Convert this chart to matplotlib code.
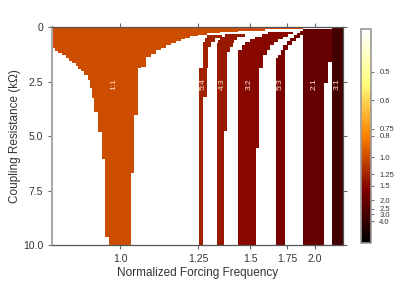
import numpy as np
import matplotlib
matplotlib.use("Agg")
import matplotlib.pyplot as plt
from matplotlib.colors import Normalize
from matplotlib.cm import ScalarMappable

plt.rcParams['font.family'] = ['Liberation Sans', 'DejaVu Sans']

# locking ratios (response : forcing) and their labels
ratios = [1.0, 1.25, 4 / 3, 1.5, 5 / 3, 2.0, 3.0]
names = ["1:1", "5:4", "4:3", "3:2", "5:3", "2:1", "3:1"]

# each tongue: resistance breakpoints (kOhm) + left/right frequency edge per step
t11_r_lo = [0, 0.94, 1.07, 1.19, 1.28, 1.40, 1.53, 1.65, 1.77, 1.89, 2.01, 2.20,
            2.43, 2.78, 3.26, 3.87, 4.79, 6.06, 9.62, 10]
t11_lo = [0.85, 0.857, 0.863, 0.871, 0.878, 0.884, 0.890, 0.898, 0.903, 0.909,
          0.916, 0.924, 0.928, 0.932, 0.938, 0.947, 0.955, 0.964, 0.973]
t11_r_hi = [0, 0.09, 0.175, 0.22, 0.27, 0.345, 0.405, 0.48, 0.54, 0.62, 0.71,
            0.82, 0.94, 1.05, 1.20, 1.34, 1.80, 1.88, 4.02, 6.70, 10]
t11_hi = [1.887, 1.59, 1.434, 1.345, 1.286, 1.25, 1.219, 1.20, 1.185, 1.168,
          1.150, 1.134, 1.118, 1.102, 1.086, 1.071, 1.057, 1.049, 1.038, 1.029]

t54_r = [0.345, 0.50, 0.65, 0.88, 1.88, 3.19, 10]
t54_lo = [1.287, 1.278, 1.272, 1.269, 1.255, 1.255]
t54_hi = [1.354, 1.322, 1.304, 1.293, 1.286, 1.269]

t43_r = [0.30, 0.42, 0.575, 0.73, 0.88, 1.13, 4.76, 10]
t43_lo = [1.368, 1.345, 1.336, 1.331, 1.330, 1.330, 1.330]
t43_hi = [1.472, 1.429, 1.411, 1.408, 1.393, 1.378, 1.364]

t32_r = [0.22, 0.31, 0.42, 0.53, 0.65, 0.80, 1.03, 1.26, 1.86, 5.54, 10]
t32_lo = [1.612, 1.573, 1.529, 1.5, 1.472, 1.454, 1.435, 1.435, 1.435, 1.435]
t32_hi = [1.797, 1.757, 1.718, 1.681, 1.653, 1.625, 1.603, 1.581, 1.556, 1.535]

t53_r = [0.16, 0.25, 0.345, 0.47, 0.62, 0.80, 1.03, 1.26, 1.42, 10]
t53_lo = [1.857, 1.831, 1.806, 1.773, 1.747, 1.720, 1.703, 1.683, 1.663]
t53_hi = [1.884, 1.884, 1.857, 1.820, 1.792, 1.759, 1.733, 1.733, 1.733]

t21_r = [0.09, 1.57, 2.57, 10]
t21_lo = [1.887, 1.887, 1.887]
t21_hi = [2.187, 2.143, 2.102]

t31_r = [0, 10]
t31_lo = [2.187]
t31_hi = [2.34]

tongues = [
    (t11_r_lo, t11_lo, t11_r_hi, t11_hi),
    (t54_r, t54_lo, t54_r, t54_hi),
    (t43_r, t43_lo, t43_r, t43_hi),
    (t32_r, t32_lo, t32_r, t32_hi),
    (t53_r, t53_lo, t53_r, t53_hi),
    (t21_r, t21_lo, t21_r, t21_hi),
    (t31_r, t31_lo, t31_r, t31_hi),
]

x_ticks = [1.0, 1.25, 1.5, 1.75, 2.0]
x_ticklabels = ["1.0", "1.25", "1.5", "1.75", "2.0"]
y_ticks = [0, 2.5, 5.0, 7.5, 10.0]
y_ticklabels = ["0", "2.5", "5.0", "7.5", "10.0"]
cbar_vals = [0.5, 0.6, 0.75, 0.8, 1.0, 1.25, 1.5, 2.0, 2.5, 3.0, 4.0]
label_r = 2.6


def stairs(r, f):
    xs, ys = [], []
    for i, v in enumerate(f):
        xs += [v, v]
        ys += [r[i], r[i + 1]]
    return xs, ys


def fwd(f):
    with np.errstate(divide='ignore'):
        return -1.0 / np.asarray(f, dtype=float)


def inv(p):
    with np.errstate(divide='ignore'):
        return -1.0 / np.asarray(p, dtype=float)


cmap = plt.get_cmap('afmhot')
norm = Normalize(vmin=0, vmax=2.5)

fig = plt.figure(figsize=(4.15, 2.87), dpi=100)
ax = fig.add_axes([0.1253, 0.1463, 0.7012, 0.7579])
ax.set_xscale('function', functions=(fwd, inv))

for (r_lo, f_lo, r_hi, f_hi), ratio, name in zip(tongues, ratios, names):
    col = cmap(norm(1.0 / ratio))
    xl, yl = stairs(r_lo, f_lo)
    xh, yh = stairs(r_hi, f_hi)
    ax.fill(xl + xh[::-1], yl + yh[::-1], color=col, lw=0)
    # label in the middle of the tongue at the label depth
    i = np.searchsorted(r_lo, label_r) - 1
    j = np.searchsorted(r_hi, label_r) - 1
    xm = inv((fwd(f_lo[i]) + fwd(f_hi[j])) / 2)
    ax.text(xm, label_r, name, rotation=90, ha='center', va='center',
            fontsize=6, color='#ffe0d0')

ax.set_xlim(0.8515, 2.335)
ax.set_ylim(10, 0)
ax.set_xticks(x_ticks)
ax.set_xticklabels(x_ticklabels)
ax.set_yticks(y_ticks)
ax.set_yticklabels(y_ticklabels)
ax.xaxis.set_minor_locator(matplotlib.ticker.NullLocator())
ax.tick_params(direction='out', length=3, width=0.8, color='#666666',
               labelsize=7.5, labelcolor='#333333', top=True, right=True)
ax.set_xlabel("Normalized Forcing Frequency", fontsize=8.5, color='#333333', labelpad=2)
ax.set_ylabel("Coupling Resistance (kΩ)", fontsize=8.5, color='#333333', labelpad=1)
for side in ['top', 'bottom', 'right']:
    ax.spines[side].set_color('#555555')
    ax.spines[side].set_linewidth(0.9)
ax.spines['left'].set_color('#aaaaaa')
ax.spines['left'].set_linewidth(1.5)

cax = fig.add_axes([0.870, 0.1537, 0.024, 0.7456])
sm = ScalarMappable(norm=norm, cmap=cmap)
cb = fig.colorbar(sm, cax=cax)
cb.set_ticks([1.0 / v for v in cbar_vals])
cb.set_ticklabels([str(v) for v in cbar_vals])
cb.ax.tick_params(labelsize=5.5, length=2.5, width=0.6, color='#555555', labelcolor='#333333')
cb.ax.minorticks_off()
cb.outline.set_edgecolor('#999999')
cb.outline.set_linewidth(1.2)

fig.savefig("out.png", dpi=100)
